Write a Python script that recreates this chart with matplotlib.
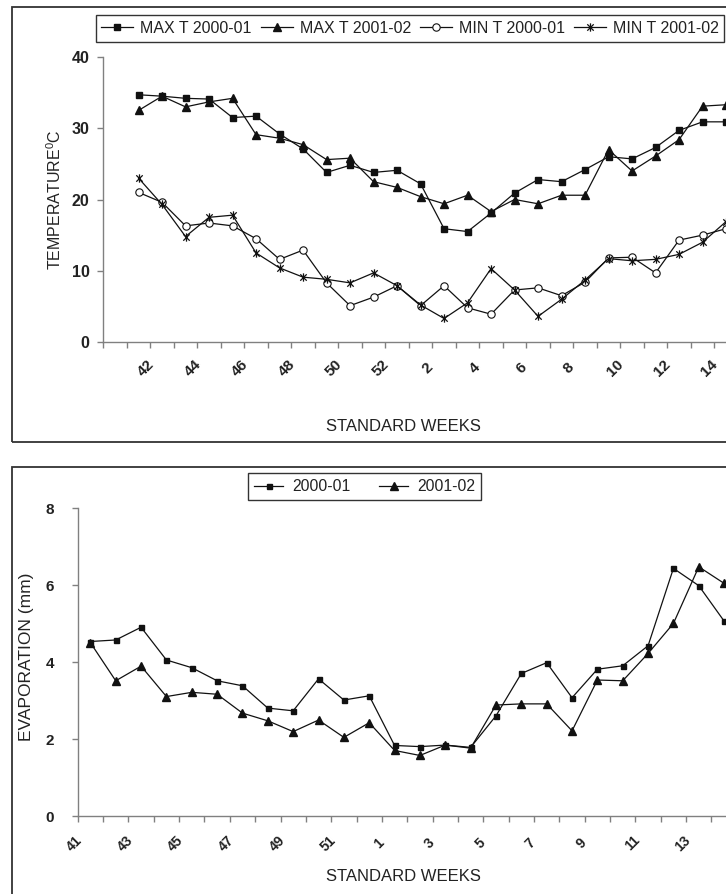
import matplotlib
matplotlib.use('Agg')
import matplotlib.pyplot as plt
import matplotlib.transforms as mtransforms
from matplotlib.patches import Rectangle
from matplotlib.path import Path
import numpy as np

plt.rcParams['font.family'] = ['Liberation Sans', 'DejaVu Sans']
plt.rcParams['mathtext.fontset'] = 'custom'
plt.rcParams['mathtext.rm'] = 'Liberation Sans'

# 数据
weeks_temp = [41, 42, 43, 44, 45, 46, 47, 48, 49, 50, 51, 52,
              1, 2, 3, 4, 5, 6, 7, 8, 9, 10, 11, 12, 13, 14, 15]
max_t_2000 = [None, 34.7, 34.5, 34.2, 34.1, 31.5, 31.7, 29.2, 27.1, 23.8, 24.8, 23.8,
              24.1, 22.2, 15.9, 15.5, 18.1, 20.9, 22.8, 22.5, 24.2, 26.0, 25.7, 27.3, 29.7, 30.9, 30.9]
max_t_2001 = [None, 32.5, 34.5, 33.0, 33.7, 34.2, 29.1, 28.6, 27.7, 25.6, 25.8, 22.5,
              21.7, 20.4, 19.4, 20.6, 18.3, 20.0, 19.4, 20.6, 20.6, 27.0, 24.0, 26.1, 28.4, 33.1, 33.3]
min_t_2000 = [None, 21.0, 19.6, 16.3, 16.7, 16.3, 14.5, 11.6, 12.9, 8.3, 5.1, 6.3,
              7.9, 5.1, 7.9, 4.8, 3.9, 7.3, 7.6, 6.5, 8.4, 11.8, 11.9, 9.7, 14.3, 15.0, 15.9]
min_t_2001 = [None, 23.0, 19.3, 14.8, 17.5, 17.8, 12.5, 10.4, 9.1, 8.8, 8.3, 9.7,
              7.9, 5.2, 3.3, 5.5, 10.3, 7.3, 3.6, 6.0, 8.7, 11.7, 11.4, 11.6, 12.3, 14.0, 16.9]

weeks_evap = [41, 42, 43, 44, 45, 46, 47, 48, 49, 50, 51, 52,
              1, 2, 3, 4, 5, 6, 7, 8, 9, 10, 11, 12, 13, 14]
evap_2000 = [4.54, 4.58, 4.91, 4.06, 3.86, 3.52, 3.39, 2.81, 2.74, 3.57, 3.02, 3.13,
             1.84, 1.81, 1.85, 1.79, 2.61, 3.71, 3.99, 3.08, 3.82, 3.91, 4.43, 6.44, 5.99, 5.07]
evap_2001 = [4.51, 3.52, 3.90, 3.11, 3.22, 3.17, 2.68, 2.48, 2.20, 2.50, 2.05, 2.43,
             1.71, 1.58, 1.85, 1.77, 2.89, 2.92, 2.92, 2.22, 3.54, 3.52, 4.23, 5.01, 6.48, 6.05]

W, H, DPI = 726, 894, 100
fig = plt.figure(figsize=(W / DPI, H / DPI), dpi=DPI)
fig.patch.set_facecolor('white')

AXIS_C = '#808080'
TEXT_C = '#222222'

# 星号标记：X 加一条竖线
star = Path([(-1, -1), (1, 1), (-1, 1), (1, -1), (0, -1.3), (0, 1.3)],
            [Path.MOVETO, Path.LINETO, Path.MOVETO, Path.LINETO, Path.MOVETO, Path.LINETO])


def px(x0, y0, x1, y1):
    # 像素框 -> figure 坐标
    return [x0 / W, 1 - y1 / H, (x1 - x0) / W, (y1 - y0) / H]


def style_axes(ax, weeks, label_start, xfs, yfs, dx, dy, ypad):
    n = len(weeks)
    ax.set_xlim(-0.5, n - 0.5)
    for s in ['top', 'right']:
        ax.spines[s].set_visible(False)
    for s in ['left', 'bottom']:
        ax.spines[s].set_color(AXIS_C)
        ax.spines[s].set_linewidth(1.0)
    ax.set_xticks(np.arange(n + 1) - 0.5)
    ax.set_xticklabels([])
    centers = np.arange(label_start, n, 2)
    ax.set_xticks(centers, minor=True)
    ax.set_xticklabels([str(weeks[i]) for i in centers], minor=True)
    ax.tick_params(axis='x', which='major', length=4, width=1, color=AXIS_C, direction='out')
    ax.tick_params(axis='x', which='minor', length=0, pad=dy * 72 / DPI)
    ax.tick_params(axis='y', length=4, width=1, color=AXIS_C, pad=ypad * 72 / DPI,
                   labelsize=yfs, labelcolor=TEXT_C)
    off = mtransforms.ScaledTranslation(dx / DPI, 0, fig.dpi_scale_trans)
    for lab in ax.get_xticklabels(minor=True):
        lab.set_rotation(45)
        lab.set_rotation_mode('anchor')
        lab.set_ha('center')
        lab.set_va('center')
        lab.set_fontweight('bold')
        lab.set_fontsize(xfs)
        lab.set_color(TEXT_C)
        lab.set_transform(lab.get_transform() + off)
    for lab in ax.get_yticklabels():
        lab.set_fontweight('bold')


# 外框
fig.patches.append(Rectangle((12 / W, 1 - 442 / H), 1.2, (442 - 7) / H, transform=fig.transFigure,
                             fill=False, edgecolor='#333333', linewidth=1.3))
fig.patches.append(Rectangle((12 / W, -0.1), 1.2, 0.1 + (894 - 467) / H, transform=fig.transFigure,
                             fill=False, edgecolor='#333333', linewidth=1.3))

# 上图：温度
n1 = len(weeks_temp)
ax1 = fig.add_axes(px(103.3, 57, 103.3 + n1 * 23.5, 342))
x1 = np.arange(n1)
lk = dict(color='#111111', linewidth=0.9)
ax1.plot(x1, np.array(max_t_2000, dtype=float), marker='s', markersize=3.8, label='MAX T 2000-01', **lk)
ax1.plot(x1, np.array(max_t_2001, dtype=float), marker='^', markersize=6.3, label='MAX T 2001-02', **lk)
ax1.plot(x1, np.array(min_t_2000, dtype=float), marker='o', markersize=5.3, markerfacecolor='white',
         markeredgewidth=0.8, label='MIN T 2000-01', **lk)
ax1.plot(x1, np.array(min_t_2001, dtype=float), marker=star, markersize=6, markeredgewidth=0.9,
         label='MIN T 2001-02', **lk)
ax1.set_ylim(0, 40)
ax1.set_yticks([0, 10, 20, 30, 40])
style_axes(ax1, weeks_temp, 1, 11, 11.5, 7, 26, 8)
ax1.set_ylabel('TEMPERATURE$^{0}$C', fontsize=11.5, color=TEXT_C, va='center')
ax1.yaxis.set_label_coords(-0.076, 0.5)
ax1.set_xlabel('STANDARD WEEKS', fontsize=12, color=TEXT_C, va='center')
ax1.xaxis.set_label_coords(0.4723, -0.295)
leg1 = fig.legend(loc='center', bbox_to_anchor=(410 / W, 1 - 28.5 / H), ncol=4, fontsize=11.5,
                  frameon=True, fancybox=False, edgecolor='#333333', framealpha=1,
                  handlelength=2.0, handletextpad=0.45, columnspacing=0.55, borderpad=0.35,
                  borderaxespad=0)
leg1.get_frame().set_linewidth(1.0)
for t in leg1.get_texts():
    t.set_color(TEXT_C)

# 下图：蒸发量
n2 = len(weeks_evap)
ax2 = fig.add_axes(px(77.7, 508.3, 77.7 + n2 * 25.35, 816.3))
x2 = np.arange(n2)
ax2.plot(x2, evap_2000, marker='s', markersize=3.6, label='2000-01', **lk)
ax2.plot(x2, evap_2001, marker='^', markersize=6.3, label='2001-02', **lk)
ax2.set_ylim(0, 8)
ax2.set_yticks([0, 2, 4, 6, 8])
style_axes(ax2, weeks_evap, 0, 10, 11, -16, 27, 18)
ax2.set_ylabel('EVAPORATION (mm)', fontsize=12.5, color=TEXT_C, va='center')
ax2.yaxis.set_label_coords(-0.0784, 0.518)
ax2.set_xlabel('STANDARD WEEKS', fontsize=12, color=TEXT_C, va='center')
ax2.xaxis.set_label_coords(0.4936, -0.194)
leg2 = fig.legend(handles=ax2.get_lines(), loc='center', bbox_to_anchor=(364.5 / W, 1 - 486.7 / H),
                  ncol=2, fontsize=11.3, frameon=True, fancybox=False, edgecolor='#333333',
                  framealpha=1, handlelength=1.85, handletextpad=0.55, columnspacing=1.85,
                  borderpad=0.4, borderaxespad=0)
leg2.get_frame().set_linewidth(1.0)
for t in leg2.get_texts():
    t.set_color(TEXT_C)

fig.savefig('out.png', dpi=DPI)
